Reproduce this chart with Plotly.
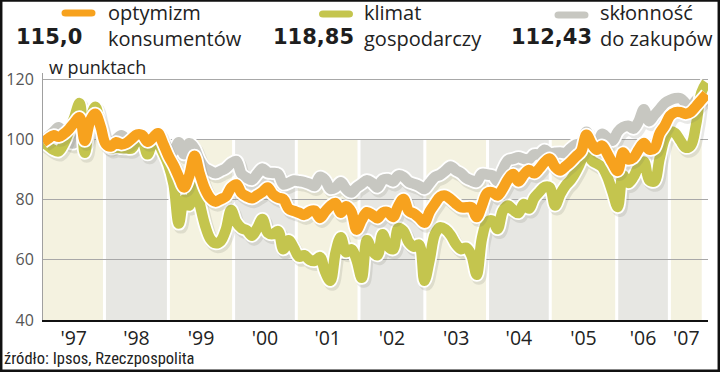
import plotly.graph_objects as go

# ---------------- data ----------------
start_year = 1997
months = 128  # Jan 1997 .. Aug 2007

optymizm = [
    99, 100.2, 101.3, 100.8, 101.8, 103.4, 105.5, 107.3, 99.5, 106, 108.5, 104.3,
    98.5, 97.6, 99, 98.3, 98.8, 100.2, 101.6, 101.4, 99.2, 100.5, 102, 98.5,
    94.5, 91.3, 87.5, 84, 88, 94.5, 88.5, 83.5, 80.5, 79.3, 80.1, 81,
    83.9, 85, 82.1, 81, 80.4, 81.4, 82.5, 84, 81.7, 80.6, 80.1, 77,
    76.2, 75.6, 74.9, 76, 76.3, 73.9, 76, 77.9, 78.8, 75.6, 77.8, 76,
    70, 73.3, 75.8, 74.9, 73.8, 75.6, 75.8, 74.2, 77.9, 80.2, 76.2, 75.3,
    73.9, 72.3, 76, 78.6, 80.9, 81.3, 80.1, 78.6, 77.4, 77.4, 77.4, 74.2,
    78, 82.1, 82.4, 81.3, 83.6, 86.7, 88.5, 86, 88.2, 89.8, 88.7, 90.3,
    92.4, 93.6, 90.8, 89.6, 91, 92.5, 94.3, 96, 101.5, 98.5, 96.5, 97.9,
    95.2, 92, 89.5, 95.6, 93.3, 93.9, 96.6, 98.8, 96.6, 97, 101.9, 104.5,
    107.8, 109, 109, 108.4, 109.1, 111, 113, 115.0,
]

klimat = [
    99, 97.8, 96.5, 96, 98.6, 102.8, 107.3, 112, 95.5, 106, 110.8, 105,
    99, 97, 97.3, 97.1, 97, 97, 99.7, 99.5, 95, 98.6, 98.5, 95.5,
    91.5, 85, 72, 80, 78, 85.5, 78.5, 71.5, 67, 65.5, 66.2, 70,
    76.5, 72.5, 70.5, 69.8, 68, 70.5, 73.5, 69, 68.5, 69.5, 63.5, 66.5,
    64, 61, 61.5, 60, 59.6, 60.9, 56, 53, 62.5, 67.5, 62.5, 63.5,
    60, 54, 66.5, 63, 61.5, 68.5, 64.5, 63.5, 70.5, 69.5, 65.8, 64.3,
    65, 53, 60, 68.5, 70.8, 70.1, 68.2, 65.2, 63.5, 64, 61.5, 55,
    67, 72.5, 73, 70.2, 76.2, 78, 76.5, 75.5, 78.5, 77, 80.5, 82.5,
    84.2, 84, 78, 81.8, 84.6, 86.5, 89.3, 93, 98.5, 93, 91.9, 90.8,
    87.5, 82.5, 77.5, 88, 85.5, 87.5, 91, 92.6, 86.5, 86, 93.5, 100.2,
    102.6, 102, 99.5, 97.2, 98, 105, 115.5, 118.85,
]

sklonnosc = [
    99.5, 101, 102.5, 104, 101.5, 99, 98.8, 103, 101, 104, 106, 102,
    99.5, 98.5, 100, 101.3, 100, 99.5, 100.5, 99.5, 98.5, 100, 100.5, 99.5,
    97, 96, 99, 95, 98.7, 97, 93, 90.5, 89.5, 88.7, 89.5, 90.4,
    92, 92.8, 88.5, 87.2, 86.5, 88.5, 90.3, 89, 88.8, 88.5, 85, 85.5,
    86.3, 86.1, 85.8, 85.2, 84.5, 87.5, 86.5, 83.5, 84, 85.7, 83.5, 82.3,
    84, 85.2, 86.4, 85.5, 84, 86.5, 86.8, 86, 88, 87.5, 85.8, 85.2,
    84.5, 83.5, 85.5, 87.5, 88.2, 89.5, 91, 89.7, 88.7, 87.1, 86.3, 85.8,
    88.5, 88.3, 88, 86, 90, 93, 93.5, 94, 93.5, 93.3, 95, 95,
    96.5, 95.3, 95.5, 95.6, 95.4, 97, 98.3, 98.8, 102.5, 99, 97.5, 101.8,
    100.5, 99.5, 102.5, 104, 104.5, 103.5, 106, 110, 106, 108, 110, 112,
    113, 113.6, 113.6, 112, 110.5, 113, 113.6, 112.43,
]

series_names = ["skłonność do zakupów", "klimat gospodarczy", "optymizm konsumentów"]
latest_labels = ["112,43", "118,85", "115,0"]

# year bands (boundaries as drawn in the chart, decimal years)
band_edges = [1997.0, 1997.98, 1999.0, 2000.04, 2001.04, 2002.04, 2003.09,
              2004.09, 2005.09, 2006.15, 2006.99, 2007.53]
year_labels = ["'97", "'98", "'99", "'00", "'01", "'02", "'03", "'04", "'05", "'06", "'07"]

y_ticks = [40, 60, 80, 100, 120]

# ---------------- styling ----------------
W, H = 720, 372
ML, MR, MT, MB = 43, 12, 73, 52
X_RANGE = [1997.0, 2007.606]
Y_RANGE = [40, 122]
ORANGE = "#F7A21E"
GREEN = "#C4C54E"
GREY = "#C7C7C1"
CREAM_BAND = "#F4F2E0"
GREY_BAND = "#E7E7E3"
REG = "Open Sans, Roboto, sans-serif"
BOLD = "DejaVu Sans, sans-serif"

pw = W - ML - MR
ph = H - MT - MB
px_per_year = pw / (X_RANGE[1] - X_RANGE[0])
px_per_unit = ph / (Y_RANGE[1] - Y_RANGE[0])


def pxx(x):
    return (x - ML) / pw


def pxy(y):
    return (H - MB - y) / ph


x_vals = [start_year + m / 12 for m in range(months)]

fig = go.Figure()

colors = [GREY, GREEN, ORANGE]
data = [sklonnosc, klimat, optymizm]
sdx = 2 / px_per_year
sdy = 3 / px_per_unit
for name, vals, col in zip(series_names, data, colors):
    fig.add_trace(go.Scatter(
        x=[v + sdx for v in x_vals], y=[v - sdy for v in vals], mode="lines",
        line=dict(color="rgba(110,110,100,0.16)", width=14, shape="spline", smoothing=1),
        hoverinfo="skip", showlegend=False))
    fig.add_trace(go.Scatter(
        x=x_vals, y=vals, mode="lines",
        line=dict(color="white", width=14, shape="spline", smoothing=1),
        hoverinfo="skip", showlegend=False))
    fig.add_trace(go.Scatter(
        x=x_vals, y=vals, mode="lines", name=name,
        line=dict(color=col, width=10.5, shape="spline", smoothing=1),
        showlegend=False))

# background year bands
gap = 3 / px_per_year
shapes = []
for i in range(len(band_edges) - 1):
    x0 = band_edges[i] + (gap / 2 if i > 0 else 0)
    x1 = band_edges[i + 1] - gap / 2
    shapes.append(dict(type="rect", xref="x", yref="y", x0=x0, x1=x1, y0=40, y1=100,
                       fillcolor=CREAM_BAND if i % 2 == 0 else GREY_BAND,
                       line=dict(width=0), layer="below"))

# legend bars (rounded)
bar_path = "M -13,-3.5 L 13,-3.5 Q 17,-3.5 17,0 Q 17,3.5 13,3.5 L -13,3.5 Q -17,3.5 -17,0 Q -17,-3.5 -13,-3.5 Z"
for cx, cy, col in [(78.5, 13, ORANGE), (336, 14, GREEN), (571.5, 15, GREY)]:
    shapes.append(dict(type="path", xref="paper", yref="paper",
                       xsizemode="pixel", ysizemode="pixel",
                       xanchor=pxx(cx), yanchor=pxy(cy), path=bar_path,
                       fillcolor=col, line=dict(width=0)))

# outer frame
shapes.append(dict(type="rect", xref="paper", yref="paper",
                   x0=pxx(1.2), x1=pxx(718.8), y0=pxy(370.8), y1=pxy(0.6),
                   line=dict(color="#111", width=2.5), fillcolor="rgba(0,0,0,0)"))

ann = []


def text(x, y, t, size, font=REG, anchor="left", color="#222"):
    ann.append(dict(x=pxx(x), y=pxy(y), xref="paper", yref="paper", text=t,
                    showarrow=False, xanchor=anchor, yanchor="middle",
                    font=dict(family=font, size=size, color=color)))


text(106, 13, "optymizm", 20)
text(106, 38, "konsumentów", 20)
text(84, 37, "<b>" + latest_labels[2] + "</b>", 21, BOLD, "right", "#1e1e1e")
text(362, 13, "klimat", 20)
text(362, 38, "gospodarczy", 20)
text(356, 37, "<b>" + latest_labels[1] + "</b>", 21, BOLD, "right", "#1e1e1e")
text(598, 13, "skłonność", 20)
text(598, 38, "do zakupów", 20)
text(594, 37, "<b>" + latest_labels[0] + "</b>", 21, BOLD, "right", "#1e1e1e")
text(47, 67, "w punktach", 18)
text(2, 358, "źródło: Ipsos, Rzeczpospolita", 16.5,
     "Liberation Sans Narrow, Roboto Condensed, sans-serif")

centers = [(band_edges[i] + band_edges[i + 1]) / 2 for i in range(len(band_edges) - 1)]

fig.update_layout(
    width=W, height=H,
    margin=dict(l=ML, r=MR, t=MT, b=MB, autoexpand=False),
    paper_bgcolor="white", plot_bgcolor="white",
    shapes=shapes, annotations=ann,
    xaxis=dict(range=X_RANGE, showgrid=False, zeroline=False,
               showline=True, linecolor="#111", linewidth=2,
               tickmode="array", tickvals=centers, ticktext=year_labels,
               ticks="", automargin=False,
               tickfont=dict(family=REG, size=19.5, color="#222")),
    yaxis=dict(range=Y_RANGE, tickmode="array", tickvals=y_ticks,
               showgrid=True, gridcolor="#A8A8A8", gridwidth=1, zeroline=False,
               showline=True, linecolor="#A0A0A0", linewidth=1,
               ticks="", ticklabelstandoff=5, automargin=False,
               tickfont=dict(family=REG, size=16, color="#555")),
)

fig.write_html("out.html", config={"displayModeBar": False},
               post_script="document.body.style.margin='0';document.body.style.padding='0';")
